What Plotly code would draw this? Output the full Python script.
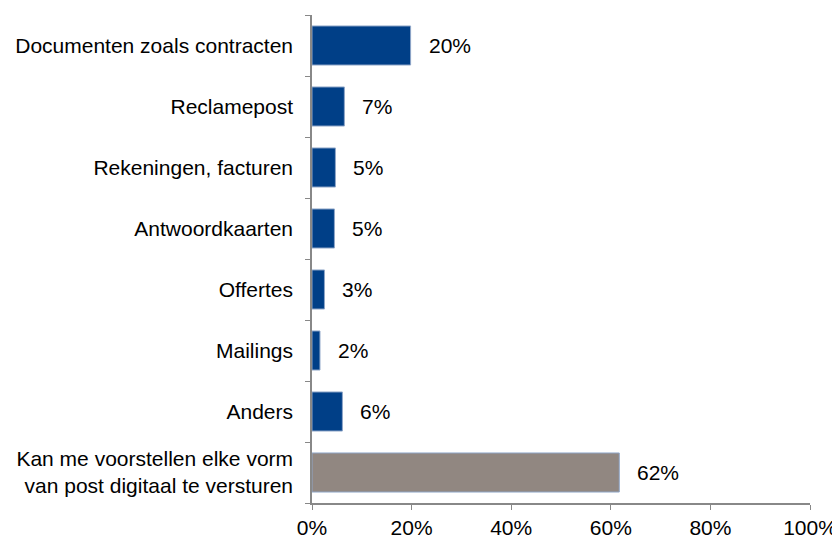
import plotly.graph_objects as go

# categories from top to bottom
categories = [
    "Documenten zoals contracten",
    "Reclamepost",
    "Rekeningen, facturen",
    "Antwoordkaarten",
    "Offertes",
    "Mailings",
    "Anders",
    "Kan me voorstellen elke vorm<br>van post digitaal te versturen",
]
values = [19.8, 6.5, 4.7, 4.5, 2.5, 1.6, 6.1, 61.7]
value_labels = ["20%", "7%", "5%", "5%", "3%", "2%", "6%", "62%"]
bar_colors = ["#003F87"] * 7 + ["#918781"]

x_ticks = [0, 20, 40, 60, 80, 100]
x_tick_labels = ["0%", "20%", "40%", "60%", "80%", "100%"]

font_family = "Liberation Sans, Arial, sans-serif"

fig = go.Figure()

# the bars
fig.add_trace(go.Bar(
    x=values,
    y=categories,
    orientation="h",
    width=0.64,
    marker=dict(color=bar_colors, line=dict(color="#8fa6c8", width=1)),
    hoverinfo="skip",
))

# value labels right of each bar
for cat, val, lab in zip(categories, values, value_labels):
    fig.add_annotation(
        x=val, y=cat, text=lab,
        xanchor="left", yanchor="middle",
        xshift=16, showarrow=False,
        font=dict(family=font_family, size=21, color="#000000"),
    )

# page body has an 8px margin, so margins are shifted to compensate
fig.update_layout(
    width=840, height=538,
    margin=dict(l=301, r=38, t=7, b=39),
    plot_bgcolor="white",
    paper_bgcolor="white",
    showlegend=False,
    font=dict(family=font_family, size=21, color="#000000"),
)

fig.update_xaxes(
    range=[0, 100],
    tickvals=x_ticks,
    ticktext=x_tick_labels,
    showgrid=False,
    zeroline=False,
    showline=True, linecolor="#888888", linewidth=1.5,
    ticks="outside", ticklen=5, tickcolor="#888888",
)

fig.update_yaxes(
    categoryorder="array",
    categoryarray=categories[::-1],
    autorange=False,
    range=[-0.5, len(categories) - 0.5],
    tickson="boundaries",
    showgrid=False,
    showline=True, linecolor="#888888", linewidth=1.5,
    ticks="outside", ticklen=5, tickcolor="#888888",
    ticklabelstandoff=13,
)

fig.write_html("out.html")
